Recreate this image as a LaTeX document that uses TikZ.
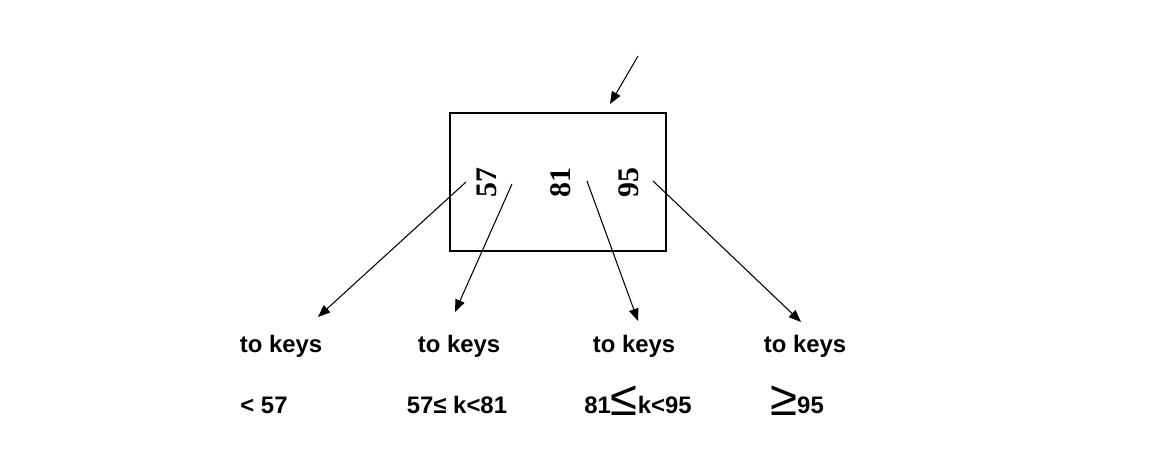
\documentclass[tikz,border=0pt]{standalone}
\usepackage{fontspec}
\setmainfont{Liberation Sans}
\newfontfamily\serifnum{Liberation Serif}
\usetikzlibrary{arrows.meta}
\newcommand{\bigrel}[1]{\raisebox{-1.5pt}{\fontsize{28}{29}\selectfont\mdseries #1}}
\begin{document}
\begin{tikzpicture}[x=0.02cm,y=-0.02cm,
  lbl/.style={font=\fontsize{13.6}{16}\selectfont\bfseries, inner sep=0pt, anchor=base},
  keynum/.style={font=\fontsize{17}{20}\selectfont\serifnum\bfseries, rotate=90, inner sep=0pt},
  ptr/.style={line width=0.6pt, -{Triangle[length=7pt,width=5.5pt]}}]
\useasboundingbox (0,0) rectangle (1149,459);
\node[draw, line width=0.7pt, minimum width=216*0.02cm, minimum height=138*0.02cm, inner sep=0pt] (box) at (558,182) {};
\node[keynum] (k57) at (487,183) {57};
\node[keynum] (k81) at (561,183) {81};
\node[keynum] (k95) at (629,183) {95};
\coordinate (top) at (638,56);
\coordinate (topend) at (610,104);
\coordinate (s1) at (466,182);
\coordinate (s2) at (512,184);
\coordinate (s3) at (587,181);
\coordinate (s4) at (653,181);
\coordinate (e1) at (318,317);
\coordinate (e2) at (455,312);
\coordinate (e3) at (638,321);
\coordinate (e4) at (801,322);
\node[lbl] (t1) at (281,352) {to keys};
\node[lbl] (t2) at (459,352) {to keys};
\node[lbl] (t3) at (634,352) {to keys};
\node[lbl] (t4) at (805,352) {to keys};
\node[lbl] (r1) at (264,413) {<~57};
\node[lbl] (r2) at (457,413) {57≤ k<81};
\node[lbl] (r3) at (638,413) {81\bigrel{≤}k<95};
\node[lbl] (r4) at (797,413) {\bigrel{≥}95};
\draw[ptr] (top) -- (topend);
\draw[ptr] (s1) -- (e1);
\draw[ptr] (s2) -- (e2);
\draw[ptr] (s3) -- (e3);
\draw[ptr] (s4) -- (e4);
\end{tikzpicture}
\end{document}
